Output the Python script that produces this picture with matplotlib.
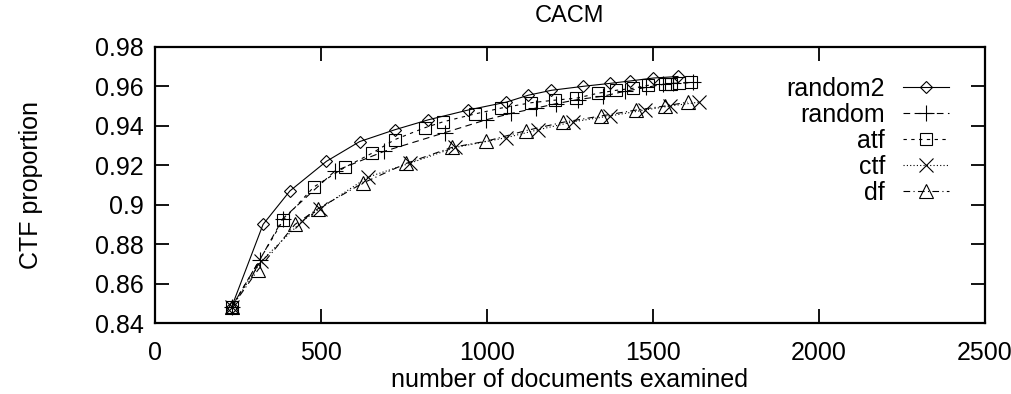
import matplotlib
matplotlib.use("Agg")
import matplotlib.pyplot as plt
from matplotlib.ticker import FormatStrFormatter

plt.rcParams['font.family'] = ['Liberation Sans', 'DejaVu Sans']

# values
random2_x = [231, 326, 407, 517, 617, 723, 823, 944, 1059, 1125, 1195, 1290, 1371, 1431, 1501, 1576]
random2_y = [0.848, 0.890, 0.907, 0.922, 0.932, 0.938, 0.943, 0.948, 0.952, 0.9555, 0.958, 0.960, 0.9615, 0.9627, 0.9642, 0.965]

random_x = [231, 316, 386, 542, 690, 873, 997, 1074, 1149, 1209, 1274, 1350, 1416, 1481, 1531, 1560, 1621]
random_y = [0.848, 0.872, 0.893, 0.917, 0.927, 0.9365, 0.943, 0.9463, 0.949, 0.9512, 0.9533, 0.955, 0.9575,
            0.9595, 0.961, 0.9615, 0.962]

atf_x = [231, 386, 479, 573, 653, 723, 813, 868, 964, 1044, 1134, 1205, 1270, 1335, 1390, 1440, 1485, 1536,
         1556, 1580, 1616]
atf_y = [0.848, 0.892, 0.909, 0.919, 0.926, 0.933, 0.939, 0.942, 0.946, 0.949, 0.9517, 0.953, 0.954, 0.9565,
         0.958, 0.959, 0.9605, 0.961, 0.9612, 0.9615, 0.962]

ctf_x = [231, 321, 442, 497, 642, 768, 904, 1059, 1155, 1260, 1371, 1476, 1551, 1640]
ctf_y = [0.848, 0.8715, 0.8915, 0.898, 0.914, 0.921, 0.929, 0.934, 0.938, 0.942, 0.945, 0.948, 0.950, 0.952]

df_x = [231, 311, 422, 492, 627, 758, 894, 999, 1119, 1230, 1345, 1451, 1536, 1606]
df_y = [0.848, 0.867, 0.890, 0.898, 0.911, 0.921, 0.929, 0.9322, 0.9376, 0.9418, 0.945, 0.948, 0.950, 0.952]

fig = plt.figure(figsize=(10.12, 3.94), dpi=100)
ax = fig.add_axes([0.153, 0.18, 0.82, 0.701])

kw = dict(color='black', lw=0.8, mfc='none', mec='black', mew=0.8)
ax.plot(random2_x, random2_y, '-', marker='D', ms=6.5, label='random2', **kw)
ax.plot(random_x, random_y, linestyle=(0, (6, 4)), marker='+', ms=11, label='random', **kw)
ax.plot(atf_x, atf_y, linestyle=(0, (3, 4)), marker='s', ms=9, label='atf', **kw)
ax.plot(ctf_x, ctf_y, linestyle=(0, (1, 2)), marker='x', ms=10, label='ctf', **kw)
ax.plot(df_x, df_y, linestyle=(0, (6, 3, 1, 3)), marker='^', ms=10, label='df', **kw)

ax.set_xlim(0, 2500)
ax.set_ylim(0.84, 0.98)
ax.set_xticks([0, 500, 1000, 1500, 2000, 2500])
ax.set_yticks([0.84, 0.86, 0.88, 0.9, 0.92, 0.94, 0.96, 0.98])
ax.yaxis.set_major_formatter(FormatStrFormatter('%g'))
ax.tick_params(direction='in', length=10, width=1.3, top=True, right=True, labelsize=18)
ax.tick_params(axis='x', pad=13)
ax.tick_params(axis='y', pad=8)
for s in ax.spines.values():
    s.set_linewidth(1.6)

ax.set_xlabel('number of documents examined', fontsize=18, labelpad=2)
ax.set_ylabel('CTF proportion', fontsize=18, labelpad=37)
ax.set_title('CACM', fontsize=17, pad=18)

leg = ax.legend(loc='upper right', bbox_to_anchor=(0.972, 0.938), frameon=False, markerfirst=False,
                fontsize=18, handlelength=1.85, handletextpad=0.7, labelspacing=0.08, borderpad=0)

fig.savefig('out.png', dpi=100)
